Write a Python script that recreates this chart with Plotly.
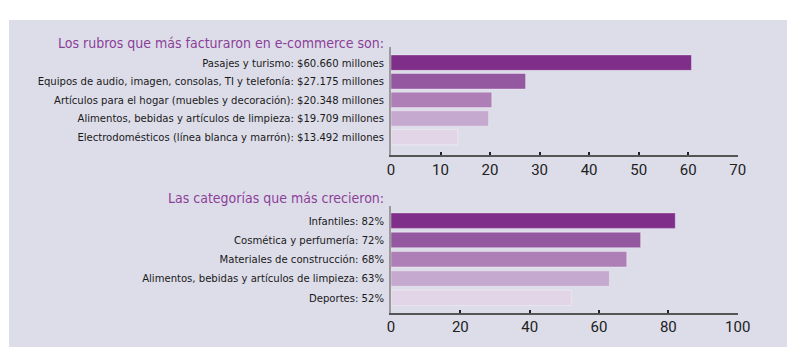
import plotly.graph_objects as go

W, H = 810, 361

title_top = "Los rubros que más facturaron en e-commerce son:"
cats_top = [
    "Pasajes y turismo: $60.660 millones",
    "Equipos de audio, imagen, consolas, TI y telefonía: $27.175 millones",
    "Artículos para el hogar (muebles y decoración): $20.348 millones",
    "Alimentos, bebidas y artículos de limpieza: $19.709 millones",
    "Electrodomésticos (línea blanca y marrón): $13.492 millones",
]
vals_top = [60.66, 27.175, 20.348, 19.709, 13.492]
ticks_top = [0, 10, 20, 30, 40, 50, 60, 70]

title_bot = "Las categorías que más crecieron:"
cats_bot = [
    "Infantiles: 82%",
    "Cosmética y perfumería: 72%",
    "Materiales de construcción: 68%",
    "Alimentos, bebidas y artículos de limpieza: 63%",
    "Deportes: 52%",
]
vals_bot = [82, 72, 68, 63, 52]
ticks_bot = [0, 20, 40, 60, 80, 100]

colors = ["#7f2f8a", "#93589f", "#ae7fb6", "#c6a9cf", "#e2d5e7"]

LABEL_FONT = "DejaVu Sans Condensed, sans-serif"
TICK_FONT = "Roboto, Inter, sans-serif"
PURPLE = "#8b3f98"

# the page body has an 8px margin; positions below are page pixels
OFF = 8

def px_x(p):
    return (p - OFF) / W

def px_y(p):
    return 1 - (p - OFF) / H

fig = go.Figure()
fig.add_trace(go.Bar(
    x=vals_top, y=list(range(len(cats_top))), orientation="h",
    marker=dict(color=colors, line=dict(color="rgba(255,255,255,0.35)", width=1)),
    width=0.83, xaxis="x", yaxis="y", showlegend=False, hoverinfo="x",
))
fig.add_trace(go.Bar(
    x=vals_bot, y=list(range(len(cats_bot))), orientation="h",
    marker=dict(color=colors, line=dict(color="rgba(255,255,255,0.35)", width=1)),
    width=0.8, xaxis="x2", yaxis="y2", showlegend=False, hoverinfo="x",
))

xdom = [px_x(391), px_x(737.7)]
xcommon = dict(
    showgrid=False, zeroline=False, showline=True, linecolor="#555555", linewidth=1.5,
    ticks="inside", ticklen=3, tickwidth=1.5, tickcolor="#222222", automargin=False,
    tickfont=dict(family=TICK_FONT, size=15, color="#222222"),
)
ycommon = dict(
    showgrid=False, zeroline=False, showline=True, linecolor="#9a9a9a", linewidth=1.5,
    ticks="", automargin=False,
    tickfont=dict(family=LABEL_FONT, size=11.2, color="#1a1a1a"),
    ticklabelstandoff=3,
)

fig.update_layout(
    width=W, height=H, margin=dict(l=0, r=0, t=0, b=0, autoexpand=False),
    paper_bgcolor="white", plot_bgcolor="rgba(0,0,0,0)",
    xaxis=dict(domain=xdom, range=[0, 70], tickvals=ticks_top, anchor="y", **xcommon),
    yaxis=dict(domain=[px_y(155), px_y(47)], range=[4.96, -0.84],
               tickvals=list(range(len(cats_top))), ticktext=cats_top, anchor="x", **ycommon),
    xaxis2=dict(domain=xdom, range=[0, 100], tickvals=ticks_bot, anchor="y2", **xcommon),
    yaxis2=dict(domain=[px_y(312.7), px_y(206)], range=[4.77, -0.76],
                tickvals=list(range(len(cats_bot))), ticktext=cats_bot, anchor="x2", **ycommon),
    shapes=[dict(type="rect", xref="paper", yref="paper",
                 x0=px_x(9), x1=px_x(787), y0=px_y(347), y1=px_y(20),
                 fillcolor="#dddde9", line=dict(width=0), layer="below")],
    annotations=[
        dict(text=title_top, xref="paper", yref="paper", x=px_x(386), y=px_y(43),
             xanchor="right", yanchor="middle", showarrow=False,
             font=dict(family=LABEL_FONT, size=14, color=PURPLE)),
        dict(text=title_bot, xref="paper", yref="paper", x=px_x(386), y=px_y(198),
             xanchor="right", yanchor="middle", showarrow=False,
             font=dict(family=LABEL_FONT, size=14, color=PURPLE)),
    ],
)

fig.write_html("out.html")
